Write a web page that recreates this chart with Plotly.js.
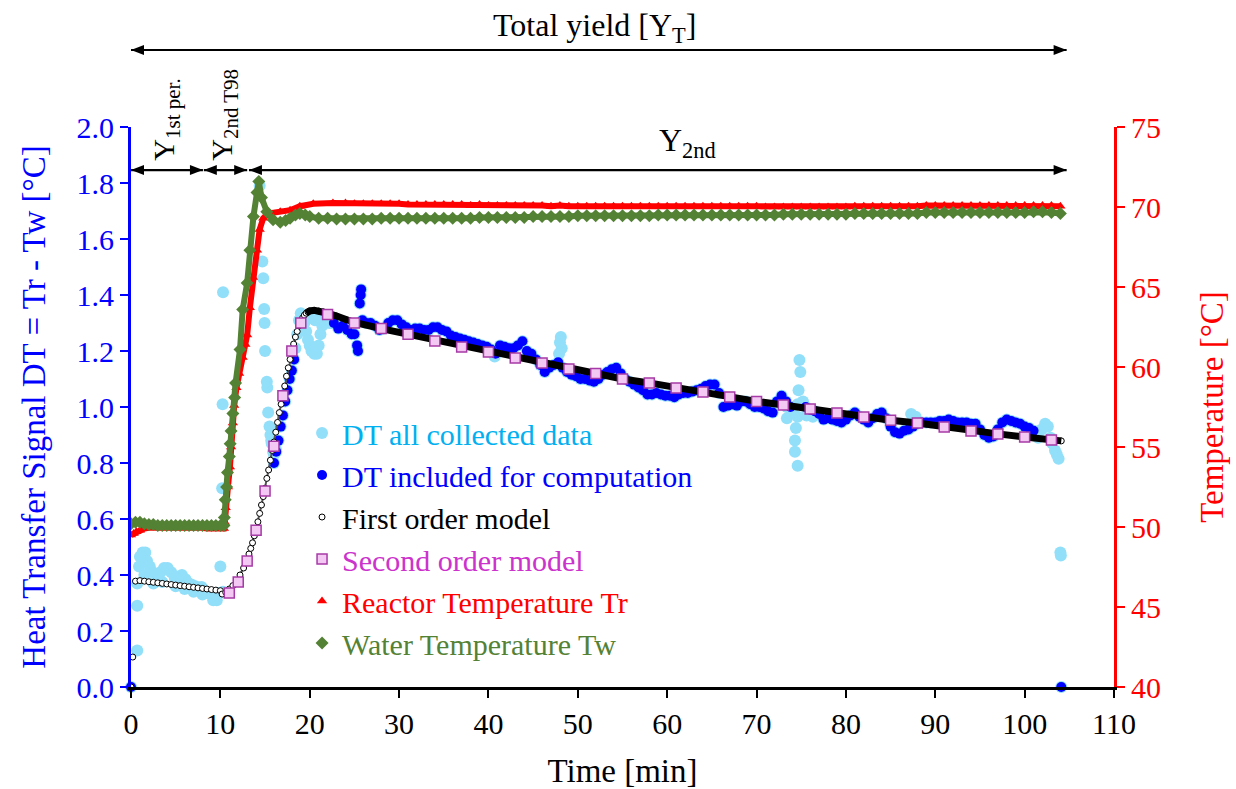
<!DOCTYPE html>
<html>
<head>
<meta charset="utf-8">
<script src="https://cdn.plot.ly/plotly-3.0.1.min.js"></script>
<style>
  html, body { margin: 0; padding: 0; background: #ffffff; }
  #chart { width: 1236px; height: 789px; }
</style>
</head>
<body>
<div id="chart"></div>
<script>
// ---- Heat transfer signal DT (left axis) ----
// DT points included for the yield computation
const dtInTime = [0,
  16.0, 16.25, 16.5, 16.75, 17.0, 17.25, 17.5, 17.75, 18.0, 18.25,
  22.7, 23.2, 23.7, 24.2, 24.7, 25.0, 25.3, 25.4, 25.6, 25.7, 25.75, 25.9, 26.3, 26.8, 27.3, 27.8,
  28.3, 28.8, 29.3, 29.8, 30.3, 30.8, 31.3, 31.8, 32.3, 32.8, 33.3, 33.8, 34.3, 34.8, 35.3, 35.8,
  36.3, 36.8, 37.3, 37.8, 38.3, 38.8, 39.3, 39.8, 40.3, 40.8, 41.3, 41.8, 42.3, 42.8, 43.3, 43.8,
  44.3, 44.8, 45.3, 45.8, 46.3, 46.8, 47.3, 47.8, 48.3, 48.8, 49.3, 49.8, 50.3, 50.8, 51.3, 51.8,
  52.3, 52.8, 53.3, 53.8, 54.3, 54.8, 55.3, 55.8, 56.3, 56.8, 57.3, 57.8, 58.3, 58.8, 59.3, 59.8,
  60.3, 60.8, 61.3, 61.8, 62.3, 62.8, 63.3, 63.8, 64.3, 64.8, 65.3, 65.8, 66.3, 66.8, 67.3, 67.8,
  68.3, 68.8, 69.3, 69.8, 70.3, 70.8, 71.3, 71.8, 72.3, 72.8, 73.3, 73.8,
  75.5, 76.0, 76.5, 77.0, 77.5, 78.0, 78.5, 79.0, 79.5, 80.0, 80.5, 81.0, 81.5, 82.0, 82.5, 83.0,
  83.5, 84.0, 84.5, 85.0, 85.5, 86.0, 86.5, 87.0, 87.5, 88.0, 88.5, 89.0, 89.5, 90.0, 90.5, 91.0,
  91.5, 92.0, 92.5, 93.0, 93.5, 94.0, 94.5, 95.0, 95.5, 96.0, 96.5, 97.0, 97.5, 98.0, 98.5, 99.0,
  99.5, 100.0, 100.5, 101.0,
  104.1];
const dtInVal = [0,
  0.80, 0.84, 0.88, 0.93, 0.97, 1.02, 1.06, 1.10, 1.13, 1.17,
  1.30, 1.28, 1.29, 1.275, 1.26, 1.26, 1.22, 1.20, 1.37, 1.40, 1.42, 1.31, 1.30, 1.30, 1.29, 1.275,
  1.28, 1.30, 1.31, 1.31, 1.295, 1.285, 1.275, 1.28, 1.28, 1.275, 1.275, 1.285, 1.285, 1.275, 1.27, 1.255,
  1.25, 1.245, 1.24, 1.235, 1.23, 1.225, 1.22, 1.215, 1.205, 1.19, 1.22, 1.215, 1.21, 1.21, 1.22, 1.235,
  1.20, 1.19, 1.17, 1.15, 1.125, 1.14, 1.15, 1.16, 1.14, 1.125, 1.115, 1.11, 1.10, 1.10, 1.095, 1.09,
  1.10, 1.115, 1.125, 1.135, 1.14, 1.12, 1.10, 1.09, 1.08, 1.07, 1.06, 1.045, 1.045, 1.05, 1.045, 1.04,
  1.04, 1.035, 1.045, 1.05, 1.05, 1.055, 1.06, 1.065, 1.075, 1.08, 1.08, 1.05, 1.00, 1.005, 1.01, 1.005,
  1.02, 1.02, 1.01, 1.00, 1.00, 0.995, 0.985, 0.98, 1.02, 1.04, 1.02, 1.00,
  1.00, 0.99, 0.985, 0.975, 0.955, 0.96, 0.955, 0.95, 0.945, 0.955, 0.97, 0.98, 0.965, 0.955, 0.945, 0.96,
  0.975, 0.98, 0.96, 0.93, 0.91, 0.905, 0.915, 0.92, 0.93, 0.94, 0.945, 0.945, 0.945, 0.945, 0.95, 0.95,
  0.955, 0.95, 0.945, 0.945, 0.945, 0.94, 0.94, 0.92, 0.90, 0.89, 0.895, 0.92, 0.945, 0.955, 0.95, 0.945,
  0.94, 0.93, 0.925, 0.915,
  0];

// DT points collected but left out of the computation
const dtOutTime = [
  0.7, 0.7, 0.7, 0.9, 1.0, 1.3, 1.6, 1.8, 2.1, 2.4, 2.7, 3.0, 3.3, 3.7, 4.1, 4.5, 4.9, 5.3, 5.7, 6.1,
  6.5, 6.8, 7.2, 7.6, 7.9, 8.3, 8.6, 9.0, 9.4, 9.8, 10.0, 10.3,
  1.5, 2.5, 3.5, 5.0, 6.0, 7.0, 8.0, 9.2, 9.6,
  10.2, 10.25, 10.3,
  14.4, 14.7, 14.8, 14.9, 14.95, 15.0, 15.2, 15.25, 15.35, 15.5, 15.6, 15.7, 15.75, 15.9, 16.0, 16.2,
  18.4, 18.6, 18.8, 19.0, 19.2, 19.4, 19.6, 19.8, 20.0, 20.2, 20.5, 20.8, 21.0, 21.2, 21.4, 21.6, 21.9,
  22.2, 22.5, 20.0, 20.6, 21.2,
  40.7, 47.9, 48.0, 48.1, 48.2,
  73.4, 73.4, 74.0, 74.4, 74.3, 74.3, 74.6, 74.6, 74.6, 74.7, 74.9, 74.8, 75.2, 75.6, 76.3,
  87.3, 87.8,
  101.5, 101.9, 102.3, 102.6, 102.9, 103.1, 103.4, 103.6, 103.8, 104.0, 104.05];
const dtOutVal = [
  0.13, 0.29, 0.37, 0.43, 0.465, 0.48, 0.48, 0.45, 0.43, 0.41, 0.405, 0.40, 0.41, 0.425, 0.425, 0.41, 0.39, 0.395, 0.40, 0.385,
  0.37, 0.365, 0.36, 0.355, 0.357, 0.34, 0.335, 0.33, 0.33, 0.335, 0.43, 0.34,
  0.40, 0.37, 0.375, 0.36, 0.35, 0.34, 0.33, 0.31, 0.31,
  0.71, 1.01, 1.41,
  1.79, 1.52, 1.46, 1.35, 1.30, 1.20, 1.09, 1.07, 0.98, 0.93, 0.90, 0.88, 0.87, 0.84, 0.83, 0.85,
  1.21, 1.26, 1.31, 1.335, 1.32, 1.30, 1.27, 1.24, 1.22, 1.20, 1.19, 1.19, 1.22, 1.26, 1.29, 1.31, 1.31,
  1.30, 1.30, 1.32, 1.31, 1.32,
  1.18, 1.19, 1.23, 1.25, 1.21,
  0.96, 1.00, 0.98, 0.925, 0.88, 0.84, 0.79, 0.965, 1.01, 1.06, 1.125, 1.168, 1.02, 0.97, 0.965,
  0.975, 0.965,
  0.89, 0.92, 0.94, 0.93, 0.89, 0.87, 0.845, 0.83, 0.815, 0.48, 0.47];

// First order model
const foTime = [0, 0.2, 0.5, 1.0, 1.5, 2.0, 2.5, 3.0, 3.5, 4.0, 4.5, 5.0, 5.5, 6.0, 6.5, 7.0, 7.5, 8.0, 8.5,
  9.0, 9.5, 10.0, 10.2, 10.6, 11.0, 11.4, 11.8, 12.2, 12.6, 13.0, 13.2, 13.4, 13.6, 13.8, 14.0, 14.2,
  14.4, 14.6, 14.8, 15.0, 15.2, 15.4, 15.6, 15.8, 16.0, 16.2, 16.4, 16.6, 16.8, 17.0, 17.2, 17.4, 17.6,
  17.8, 18.0, 18.2, 18.4, 18.6, 18.8, 19.0, 19.2, 19.4, 19.6, 19.8, 20.0, 20.5, 21.0, 21.5, 22.0, 23.0,
  24.0, 25.0, 28.0, 31.0, 34.0, 37.0, 40.0, 43.0, 46.0, 49.0, 52.0, 55.0, 58.0, 61.0, 64.0, 67.0,
  70.0, 73.0, 76.0, 79.0, 82.0, 85.0, 88.0, 91.0, 94.0, 97.0, 100.0, 103.0, 104.1];
const foVal = [0, 0.107, 0.378, 0.380, 0.378, 0.376, 0.374, 0.372, 0.370, 0.368, 0.366, 0.364, 0.362, 0.360, 0.358, 0.356, 0.354, 0.352, 0.350,
  0.348, 0.346, 0.344, 0.332, 0.338, 0.350, 0.362, 0.380, 0.400, 0.425, 0.455, 0.475, 0.495, 0.515, 0.540, 0.565, 0.590,
  0.620, 0.650, 0.680, 0.710, 0.745, 0.775, 0.810, 0.845, 0.875, 0.910, 0.945, 0.980, 1.010, 1.045, 1.075, 1.110, 1.140,
  1.170, 1.200, 1.225, 1.250, 1.270, 1.290, 1.305, 1.318, 1.328, 1.335, 1.340, 1.343, 1.345, 1.343, 1.340, 1.335, 1.325,
  1.312, 1.302, 1.280, 1.260, 1.237, 1.214, 1.195, 1.175, 1.156, 1.136, 1.120, 1.100, 1.086, 1.068, 1.054, 1.036,
  1.020, 1.007, 0.993, 0.979, 0.964, 0.953, 0.943, 0.929, 0.914, 0.904, 0.893, 0.882, 0.879];

// Second order model
const soTime = [11, 12, 13, 14, 15, 16, 17, 18, 19, 22, 25, 28, 31, 34, 37, 40, 43, 46, 49, 52, 55, 58,
  61, 64, 67, 70, 73, 76, 79, 82, 85, 88, 91, 94, 97, 100, 103];
const soVal = [0.336, 0.375, 0.45, 0.56, 0.70, 0.86, 1.04, 1.20, 1.30, 1.33, 1.30, 1.28, 1.26, 1.236, 1.214, 1.196, 1.175, 1.157, 1.136, 1.12, 1.10, 1.086,
  1.068, 1.054, 1.036, 1.02, 1.007, 0.993, 0.979, 0.964, 0.953, 0.943, 0.929, 0.914, 0.904, 0.893, 0.882];

// ---- Temperatures (right axis) ----
const trTime = [0, 0.3, 0.6, 1, 1.5, 2, 2.5, 3, 3.5, 4, 4.5, 5, 5.5, 6, 6.5, 7, 7.5, 8, 8.5, 9, 9.5, 10, 10.4,
  10.5, 10.6, 10.85, 11.07, 11.2, 11.4, 11.55, 11.8, 12.1, 12.5, 12.8, 13.0, 13.3, 13.65, 14.1, 14.4, 14.8,
  15.5, 16.7, 17.8, 18.9, 20.4, 22.6,
  24, 25, 26, 27, 28, 29, 30, 31, 32, 33, 34, 35, 36, 37, 38, 39, 40, 41, 42, 43, 44, 45, 46, 47, 48, 49,
  50, 51, 52, 53, 54, 55, 56, 57, 58, 59, 60, 61, 62, 63, 64, 65, 66, 67, 68, 69, 70, 71, 72, 73, 74, 75,
  76, 77, 78, 79, 80, 81, 82, 83, 84, 85, 86, 87, 88, 89, 90, 91, 92, 93, 94, 95, 96, 97, 98, 99, 100,
  101, 102, 103, 104];
const trVal = [49.5, 49.6, 49.7, 49.8, 49.9, 49.95, 49.95, 50.0, 49.95, 49.95, 50.0, 49.95, 49.95, 49.95, 49.95, 49.95, 49.95, 49.95, 49.9, 49.9, 49.9, 49.9, 49.9,
  50.3, 51.2, 52.5, 53.75, 55.0, 56.5, 57.6, 58.7, 59.6, 60.6, 61.4, 62.0, 63.7, 65.6, 67.3, 68.6, 69.3,
  69.6, 69.7, 69.8, 70.05, 70.2, 70.25,
  70.25, 70.2, 70.2, 70.2, 70.2, 70.2, 70.2, 70.15, 70.15, 70.15, 70.15, 70.15, 70.15, 70.15, 70.1, 70.15, 70.1, 70.1, 70.1, 70.1, 70.1, 70.1, 70.1, 70.05, 70.1, 70.05,
  70.05, 70.05, 70.05, 70.05, 70.05, 70.05, 70.05, 70.05, 70.05, 70.05, 70.05, 70.05, 70.05, 70.05, 70.05, 70.05, 70.05, 70.05, 70.05, 70.05, 70.05, 70.0, 70.0, 70.0, 70.0, 70.0,
  70.0, 70.0, 70.0, 70.0, 70.0, 70.05, 70.05, 70.05, 70.05, 70.05, 70.05, 70.05, 70.05, 70.1, 70.1, 70.1, 70.1, 70.1, 70.1, 70.1, 70.1, 70.1, 70.1, 70.1, 70.1,
  70.1, 70.1, 70.1, 70.05];

const twTime = [0, 0.5, 1, 1.5, 2, 2.5, 3, 3.5, 4, 4.5, 5, 5.5, 6, 6.5, 7, 7.5, 8, 8.5, 9, 9.5, 10, 10.4,
  10.45, 10.55, 10.7, 10.8, 11.0, 11.1, 11.2, 11.4, 11.6, 11.7, 12.2, 12.5, 13.0, 13.3, 13.7, 14.1, 14.3,
  14.6, 15.2, 15.9, 16.7, 17.3, 17.8, 18.4, 18.9, 19.5, 20, 21, 22, 23,
  24, 25, 26, 27, 28, 29, 30, 31, 32, 33, 34, 35, 36, 37, 38, 39, 40, 41, 42, 43, 44, 45, 46, 47, 48, 49,
  50, 51, 52, 53, 54, 55, 56, 57, 58, 59, 60, 61, 62, 63, 64, 65, 66, 67, 68, 69, 70, 71, 72, 73, 74, 75,
  76, 77, 78, 79, 80, 81, 82, 83, 84, 85, 86, 87, 88, 89, 90, 91, 92, 93, 94, 95, 96, 97, 98, 99, 100,
  101, 102, 103, 104];
const twVal = [50.2, 50.3, 50.3, 50.2, 50.15, 50.15, 50.1, 50.1, 50.1, 50.1, 50.1, 50.1, 50.1, 50.1, 50.1, 50.1, 50.1, 50.1, 50.1, 50.1, 50.1, 50.1,
  50.6, 51.7, 52.5, 53.4, 54.4, 55.2, 56.0, 57.1, 58.1, 59.0, 61.1, 63.6, 65.25, 67.3, 69.4, 70.9, 71.6,
  70.6, 69.7, 69.2, 69.05, 69.15, 69.3, 69.5, 69.6, 69.5, 69.4, 69.3, 69.3, 69.25,
  69.25, 69.25, 69.25, 69.25, 69.3, 69.3, 69.3, 69.3, 69.3, 69.3, 69.3, 69.3, 69.3, 69.3, 69.3, 69.35, 69.35, 69.35, 69.35, 69.35, 69.35, 69.4, 69.4, 69.4, 69.4, 69.4,
  69.45, 69.45, 69.45, 69.45, 69.45, 69.45, 69.45, 69.45, 69.45, 69.5, 69.5, 69.5, 69.5, 69.5, 69.5, 69.5, 69.5, 69.5, 69.5, 69.5, 69.5, 69.5, 69.5, 69.55, 69.55, 69.55,
  69.55, 69.55, 69.55, 69.55, 69.55, 69.6, 69.6, 69.6, 69.6, 69.6, 69.6, 69.6, 69.6, 69.65, 69.65, 69.65, 69.65, 69.65, 69.65, 69.65, 69.65, 69.65, 69.65, 69.65, 69.65,
  69.7, 69.7, 69.65, 69.6];

// Axis ticks
const xTicks = [0, 10, 20, 30, 40, 50, 60, 70, 80, 90, 100, 110];
const dtTicks = [0.0, 0.2, 0.4, 0.6, 0.8, 1.0, 1.2, 1.4, 1.6, 1.8, 2.0];
const tempTicks = [40, 45, 50, 55, 60, 65, 70, 75];

// ---- styling ----
const FONT = 'Liberation Serif, Times New Roman, serif';
const C_LIGHT = '#92dffa', C_LIGHT_TXT = '#00b0f0';
const C_BLUE = '#0000ff';
const C_PINK = '#f3c8f3', C_PURPLE = '#a63aa6', C_MAGENTA = '#cc33cc';
const C_RED = '#ff0000';
const C_GREEN = '#548235';

function label(text, color) {
  return '<span style="color:' + color + '">' + text + '</span>';
}

// model points split into the rising chain and the plateau band
const bandStart = 19.6;
const foRiseTime = foTime.filter(t => t >= 10.2 && t <= bandStart);
const foRiseVal = foVal.filter((v, i) => foTime[i] >= 10.2 && foTime[i] <= bandStart);
const foBandTime = foTime.filter(t => t >= bandStart);
const foBandVal = foVal.filter((v, i) => foTime[i] >= bandStart);

const traces = [
  {
    x: dtInTime.concat(dtOutTime), y: dtInVal.concat(dtOutVal),
    type: 'scatter', mode: 'markers', cliponaxis: false,
    name: label('DT all collected data', C_LIGHT_TXT),
    marker: { color: C_LIGHT, size: 12 }
  },
  {
    x: dtInTime, y: dtInVal,
    type: 'scatter', mode: 'markers', cliponaxis: false,
    name: label('DT included for computation', C_BLUE),
    marker: { color: C_BLUE, size: 10 }
  },
  {
    x: foRiseTime, y: foRiseVal,
    type: 'scatter', mode: 'lines', showlegend: false, hoverinfo: 'skip',
    line: { color: '#555555', width: 2 }
  },
  {
    x: foTime, y: foVal,
    type: 'scatter', mode: 'markers', cliponaxis: false,
    name: label('First order model', '#000000'),
    marker: { symbol: 'circle', color: '#ffffff', size: 6, line: { color: '#000000', width: 1 } }
  },
  {
    x: foBandTime, y: foBandVal,
    type: 'scatter', mode: 'lines', showlegend: false, hoverinfo: 'skip',
    line: { color: '#000000', width: 7 }
  },
  {
    x: soTime, y: soVal,
    type: 'scatter', mode: 'markers',
    name: label('Second order model', C_MAGENTA),
    marker: { symbol: 'square', color: C_PINK, size: 10, line: { color: C_PURPLE, width: 1.5 } }
  },
  {
    x: trTime, y: trVal, yaxis: 'y2',
    type: 'scatter', mode: 'lines', showlegend: false, hoverinfo: 'skip',
    line: { color: C_RED, width: 6 }
  },
  {
    x: trTime, y: trVal, yaxis: 'y2',
    type: 'scatter', mode: 'markers',
    name: label('Reactor Temperature Tr', C_RED),
    marker: { symbol: 'triangle-up', color: C_RED, size: 9 }
  },
  {
    x: twTime, y: twVal, yaxis: 'y2',
    type: 'scatter', mode: 'lines', showlegend: false, hoverinfo: 'skip',
    line: { color: C_GREEN, width: 6 }
  },
  {
    x: twTime, y: twVal, yaxis: 'y2',
    type: 'scatter', mode: 'markers',
    name: label('Water Temperature Tw', C_GREEN),
    marker: { symbol: 'diamond', color: C_GREEN, size: 10 }
  }
];

// double-headed arrows marking the yield periods: a line plus two pixel-sized heads
const HEAD_L = 13, HEAD_W = 5;
function span(x0, x1, y, yref) {
  const base = { xref: 'x', yref: yref, layer: 'above' };
  const line = Object.assign({}, base, {
    type: 'line', x0: x0, x1: x1, y0: y, y1: y,
    line: { color: '#000000', width: 2.2 }
  });
  const head = (xa, dir) => Object.assign({}, base, {
    type: 'path', xsizemode: 'pixel', ysizemode: 'pixel', xanchor: xa, yanchor: y,
    path: 'M0,0 L' + (dir * HEAD_L) + ',' + HEAD_W + ' L' + (dir * HEAD_L) + ',' + (-HEAD_W) + ' Z',
    fillcolor: '#000000', line: { width: 0 }
  });
  return [line, head(x0, 1), head(x1, -1)];
}

const shapes = [].concat(
  span(0, 104.7, 1.1375, 'paper'),
  span(0, 8.05, 1.846, 'y'),
  span(8.15, 13.0, 1.846, 'y'),
  span(13.2, 104.7, 1.846, 'y')
);

const annotations = [
  {
    x: 51.9, xref: 'x', y: 1.177, yref: 'paper', showarrow: false,
    text: 'Total yield [Y<sub>T</sub>]', font: { family: FONT, size: 32, color: '#000000' },
    xanchor: 'center', yanchor: 'middle'
  },
  {
    x: 62.3, xref: 'x', y: 0.972, yref: 'paper', showarrow: false,
    text: 'Y<sub>2nd</sub>', font: { family: FONT, size: 32, color: '#000000' },
    xanchor: 'center', yanchor: 'middle'
  },
  {
    x: 3.9, xref: 'x', y: 0.936, yref: 'paper', showarrow: false, textangle: -90,
    text: 'Y<sub>1st per.</sub>', font: { family: FONT, size: 30, color: '#000000' },
    xanchor: 'center', yanchor: 'bottom'
  },
  {
    x: 10.4, xref: 'x', y: 0.936, yref: 'paper', showarrow: false, textangle: -90,
    text: 'Y<sub>2nd T98</sub>', font: { family: FONT, size: 30, color: '#000000' },
    xanchor: 'center', yanchor: 'bottom'
  }
];

const layout = {
  width: 1236, height: 789,
  margin: { l: 131, r: 122, t: 127, b: 102 },
  paper_bgcolor: '#ffffff', plot_bgcolor: '#ffffff',
  font: { family: FONT, size: 30, color: '#000000' },
  showlegend: true,
  legend: {
    x: 0.174, y: 0.5, xanchor: 'left', yanchor: 'top',
    bgcolor: 'rgba(0,0,0,0)', borderwidth: 0,
    font: { family: FONT, size: 30 }, traceorder: 'normal'
  },
  xaxis: {
    range: [0, 110], tickvals: xTicks, ticktext: xTicks.map(String),
    showgrid: false, zeroline: false,
    showline: true, linecolor: '#000000', linewidth: 2.5,
    ticks: 'outside', ticklen: 8, tickwidth: 2, tickcolor: '#000000',
    tickfont: { family: FONT, size: 30, color: '#000000' },
    title: { text: 'Time [min]', font: { family: FONT, size: 33, color: '#000000' }, standoff: 22 }
  },
  yaxis: {
    range: [0, 2], tickvals: dtTicks, ticktext: dtTicks.map(v => v.toFixed(1)),
    showgrid: false, zeroline: false,
    showline: true, linecolor: C_BLUE, linewidth: 3,
    ticks: 'outside', ticklen: 8, tickwidth: 2, tickcolor: C_BLUE,
    tickfont: { family: FONT, size: 30, color: C_BLUE },
    title: { text: 'Heat Transfer Signal DT = Tr - Tw [°C]', font: { family: FONT, size: 33, color: C_BLUE }, standoff: 21 }
  },
  yaxis2: {
    range: [40, 75], tickvals: tempTicks, ticktext: tempTicks.map(String),
    overlaying: 'y', side: 'right', anchor: 'x',
    showgrid: false, zeroline: false,
    showline: true, linecolor: C_RED, linewidth: 3,
    ticks: 'outside', ticklen: 8, tickwidth: 2, tickcolor: C_RED,
    tickfont: { family: FONT, size: 30, color: C_RED },
    title: { text: 'Temperature [°C]', font: { family: FONT, size: 33, color: C_RED }, standoff: 40 }
  },
  shapes: shapes,
  annotations: annotations
};

Plotly.newPlot('chart', traces, layout, { staticPlot: true, displayModeBar: false });
</script>
</body>
</html>
